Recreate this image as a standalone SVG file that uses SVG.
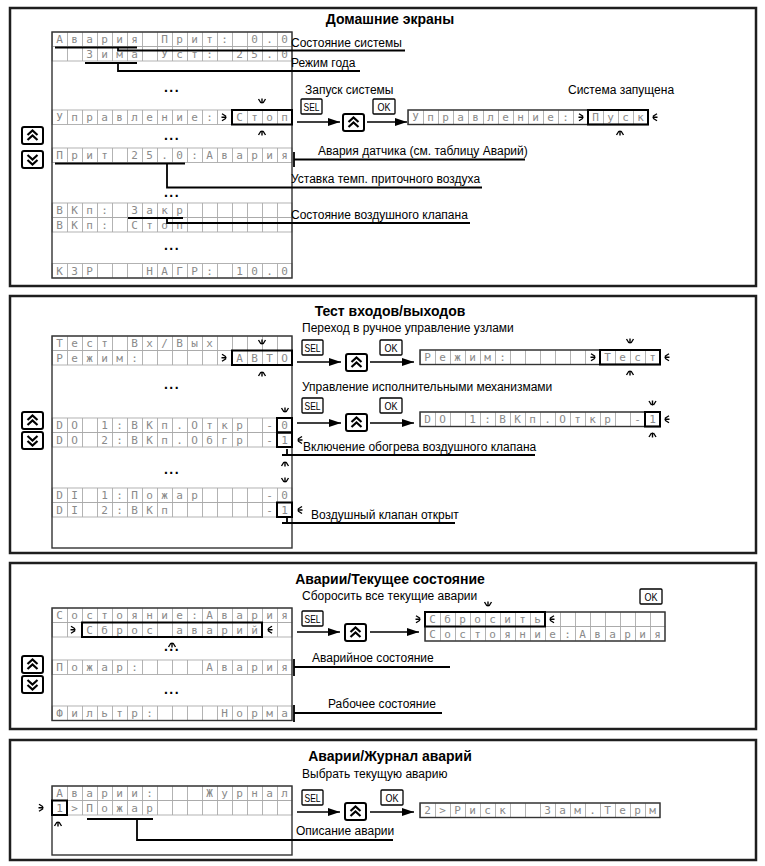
<svg xmlns="http://www.w3.org/2000/svg" xmlns:xlink="http://www.w3.org/1999/xlink" width="765" height="866" viewBox="0 0 765 866" xml:space="preserve">
<style>
.frame{fill:none;stroke:#1e1e1e;stroke-width:2.5}
.title{font-family:"Liberation Sans",Arial,sans-serif;font-weight:bold;font-size:14px;text-anchor:middle;fill:#000}
.lbl{font-family:"Liberation Sans",Arial,sans-serif;font-size:12px;fill:#000}
.lcd{font-family:"DejaVu Sans Mono",monospace;font-size:11px;fill:#8a8a8a;text-anchor:middle;white-space:pre}
.row{fill:url(#cg);stroke:#aaa;stroke-width:0.9}
.lcdf{fill:none;stroke:#333;stroke-width:1.4}
.sel{fill:none;stroke:#000;stroke-width:2}
.dots{font-family:"Liberation Sans",Arial,sans-serif;font-weight:bold;font-size:14px;letter-spacing:1.5px;text-anchor:middle;fill:#000}
.key{fill:#fff;stroke:#000;stroke-width:1.3}
.keyt{font-family:"Liberation Sans",Arial,sans-serif;font-size:11px;text-anchor:middle;fill:#000}
.cn{fill:none;stroke:#000;stroke-width:1.8}
.arr{fill:none;stroke:#000;stroke-width:1.6;marker-end:url(#ah)}
.bl{fill:none;stroke:#000;stroke-width:1.4}
</style>
<defs>
<pattern id="cg" width="15" height="15" patternUnits="userSpaceOnUse"><rect x="0" y="0" width="0.9" height="15" fill="#aaa"/></pattern>
<marker id="ah" markerWidth="12" markerHeight="8" refX="12" refY="4" orient="auto" markerUnits="userSpaceOnUse"><path d="M0,0 L12,4 L0,8 z" fill="#000"/></marker>
<g id="bk"><path class="bl" d="M-3.5,-4 L-1,0 M0,-4.5 V0.5 M3.5,-4 L1,0"/></g>
<g id="bUp"><rect x="0" y="0" width="21" height="17" rx="2" fill="#fff" stroke="#000" stroke-width="2"/><path d="M5.5,8 L10.5,3.5 L15.5,8 M5.5,13 L10.5,8.5 L15.5,13" fill="none" stroke="#000" stroke-width="2.2"/></g>
<g id="bDn"><rect x="0" y="0" width="21" height="17" rx="2" fill="#fff" stroke="#000" stroke-width="2"/><path d="M5.5,4 L10.5,8.5 L15.5,4 M5.5,9 L10.5,13.5 L15.5,9" fill="none" stroke="#000" stroke-width="2.2"/></g>
</defs>
<rect width="765" height="866" fill="#fff"/>

<!-- Panel 1 -->
<g id="panel1">
<rect class="frame" x="10" y="8" width="746" height="278"/>
<text class="title" x="390" y="24">Домашние экраны</text>
</g>
<g id="p1-lcd-main" transform="translate(52,32)">
<rect class="row" x="0" y="0" width="240" height="14.5"/>
<rect class="row" x="0" y="14.5" width="240" height="14.5"/>
<rect class="row" x="0" y="78" width="240" height="14.5"/>
<rect class="row" x="0" y="116" width="240" height="14.5"/>
<rect class="row" x="0" y="171" width="240" height="14.5"/>
<rect class="row" x="0" y="185.5" width="240" height="14.5"/>
<rect class="row" x="0" y="231.5" width="240" height="14.5"/>
<text class="lcd" x="7.5 22.5 37.5 52.5 67.5 82.5 97.5 112.5 127.5 142.5 157.5 172.5 187.5 202.5 217.5 232.5" y="11">Авария Прит: 0.0</text>
<text class="lcd" x="7.5 22.5 37.5 52.5 67.5 82.5 97.5 112.5 127.5 142.5 157.5 172.5 187.5 202.5 217.5 232.5" y="25.5">  Зима Уст: 25.0</text>
<text class="lcd" x="7.5 22.5 37.5 52.5 67.5 82.5 97.5 112.5 127.5 142.5 157.5 172.5 187.5 202.5 217.5 232.5" y="89">Управление: Стоп</text>
<text class="lcd" x="7.5 22.5 37.5 52.5 67.5 82.5 97.5 112.5 127.5 142.5 157.5 172.5 187.5 202.5 217.5 232.5" y="127">Прит 25.0:Авария</text>
<text class="lcd" x="7.5 22.5 37.5 52.5 67.5 82.5 97.5 112.5 127.5" y="182">ВКп: Закр</text>
<text class="lcd" x="7.5 22.5 37.5 52.5 67.5 82.5 97.5 112.5 127.5" y="196.5">ВКп: Стоп</text>
<text class="lcd" x="7.5 22.5 37.5 52.5 67.5 82.5 97.5 112.5 127.5 142.5 157.5 172.5 187.5 202.5 217.5 232.5" y="242.5">КЗР   НАГР: 10.0</text>
<rect class="lcdf" x="0" y="0" width="240" height="246"/>
<rect class="sel" x="180" y="78" width="60" height="14.5"/>
<text class="dots" x="120" y="59.5">...</text>
<text class="dots" x="120" y="107.5">...</text>
<text class="dots" x="120" y="164.5">...</text>
<text class="dots" x="120" y="217.5">...</text>
<use xlink:href="#bk" transform="translate(174,85.25) rotate(-90)"/>
<use xlink:href="#bk" transform="translate(210,71)"/>
<use xlink:href="#bk" transform="translate(210,99) rotate(180)"/>
</g>
<g id="p1-lcd-run" transform="translate(408,110)">
<rect class="row" x="0" y="0" width="240" height="14.5"/>
<text class="lcd" x="7.5 22.5 37.5 52.5 67.5 82.5 97.5 112.5 127.5 142.5 157.5 172.5 187.5 202.5 217.5 232.5" y="11">Управление: Пуск</text>
<rect class="lcdf" x="0" y="0" width="240" height="14.5"/>
<rect class="sel" x="180" y="0" width="60" height="14.5"/>
<use xlink:href="#bk" transform="translate(175,7.25) rotate(-90)"/>
<use xlink:href="#bk" transform="translate(245,7.25) rotate(90)"/>
<use xlink:href="#bk" transform="translate(212,21) rotate(180)"/>
</g>
<g id="p1-keys">
<use xlink:href="#bUp" x="22" y="127"/>
<use xlink:href="#bDn" x="22" y="151"/>
<rect class="key" x="301" y="99" width="21" height="15" rx="1"/><text class="keyt" x="311.5" y="110.5" textLength="16" lengthAdjust="spacingAndGlyphs">SEL</text>
<use xlink:href="#bUp" x="343" y="114"/>
<rect class="key" x="373" y="99" width="22" height="15" rx="1"/><text class="keyt" x="384" y="110.5" textLength="13" lengthAdjust="spacingAndGlyphs">OK</text>
</g>
<g id="p1-labels">
<text class="lbl" x="291" y="46.5">Состояние системы</text>
<text class="lbl" x="291" y="67">Режим года</text>
<text class="lbl" x="305" y="94">Запуск системы</text>
<text class="lbl" x="568" y="94">Система запущена</text>
<text class="lbl" x="318" y="155">Авария датчика (см. таблицу Аварий)</text>
<text class="lbl" x="291" y="183">Уставка темп. приточного воздуха</text>
<text class="lbl" x="291" y="219">Состояние воздушного клапана</text>
</g>

<!-- Panel 2 -->
<g id="panel2">
<rect class="frame" x="10" y="296" width="746" height="257"/>
<text class="title" x="390" y="316">Тест входов/выходов</text>
</g>
<g id="p2-lcd-main" transform="translate(52,336)">
<rect class="row" x="0" y="0" width="240" height="14.5"/>
<rect class="row" x="0" y="14.5" width="240" height="14.5"/>
<rect class="row" x="0" y="82" width="240" height="14.5"/>
<rect class="row" x="0" y="96.5" width="240" height="14.5"/>
<rect class="row" x="0" y="152" width="240" height="14.5"/>
<rect class="row" x="0" y="166.5" width="240" height="14.5"/>
<text class="lcd" x="7.5 22.5 37.5 52.5 67.5 82.5 97.5 112.5 127.5 142.5 157.5" y="11">Тест Вх/Вых</text>
<text class="lcd" x="7.5 22.5 37.5 52.5 67.5 82.5 97.5 112.5 127.5 142.5 157.5 172.5 187.5 202.5 217.5 232.5" y="25.5">Режим:      АВТО</text>
<text class="lcd" x="7.5 22.5 37.5 52.5 67.5 82.5 97.5 112.5 127.5 142.5 157.5 172.5 187.5 202.5 217.5 232.5" y="93">DO 1:ВКп.Откр -0</text>
<text class="lcd" x="7.5 22.5 37.5 52.5 67.5 82.5 97.5 112.5 127.5 142.5 157.5 172.5 187.5 202.5 217.5 232.5" y="107.5">DO 2:ВКп.Обгр -1</text>
<text class="lcd" x="7.5 22.5 37.5 52.5 67.5 82.5 97.5 112.5 127.5 142.5 157.5 172.5 187.5 202.5 217.5 232.5" y="163">DI 1:Пожар    -0</text>
<text class="lcd" x="7.5 22.5 37.5 52.5 67.5 82.5 97.5 112.5 127.5 142.5 157.5 172.5 187.5 202.5 217.5 232.5" y="177.5">DI 2:ВКп      -1</text>
<rect class="lcdf" x="0" y="0" width="240" height="212"/>
<rect class="sel" x="180" y="14.5" width="60" height="14.5"/>
<rect class="sel" x="225" y="82" width="15" height="14.5"/>
<rect class="sel" x="225" y="96.5" width="15" height="14.5"/>
<rect class="sel" x="225" y="166.5" width="15" height="14.5"/>
<text class="dots" x="120" y="52.5">...</text>
<text class="dots" x="120" y="137.5">...</text>
<use xlink:href="#bk" transform="translate(174,21.75) rotate(-90)"/>
<use xlink:href="#bk" transform="translate(210,8)"/>
<use xlink:href="#bk" transform="translate(210,36) rotate(180)"/>
<use xlink:href="#bk" transform="translate(233,76)"/>
<use xlink:href="#bk" transform="translate(246,104) rotate(90)"/>
<use xlink:href="#bk" transform="translate(233,126) rotate(180)"/>
<use xlink:href="#bk" transform="translate(233,146)"/>
<use xlink:href="#bk" transform="translate(246,174) rotate(90)"/>
</g>
<g id="p2-lcd-test" transform="translate(420,350)">
<rect class="row" x="0" y="0" width="240" height="14.5"/>
<text class="lcd" x="7.5 22.5 37.5 52.5 67.5 82.5 97.5 112.5 127.5 142.5 157.5 172.5 187.5 202.5 217.5 232.5" y="11">Режим:      Тест</text>
<rect class="lcdf" x="0" y="0" width="240" height="14.5"/>
<rect class="sel" x="180" y="0" width="60" height="14.5"/>
<use xlink:href="#bk" transform="translate(175,7.25) rotate(-90)"/>
<use xlink:href="#bk" transform="translate(245,7.25) rotate(90)"/>
<use xlink:href="#bk" transform="translate(210,-7)"/>
<use xlink:href="#bk" transform="translate(210,21) rotate(180)"/>
</g>
<g id="p2-lcd-do" transform="translate(420,412)">
<rect class="row" x="0" y="0" width="240" height="14.5"/>
<text class="lcd" x="7.5 22.5 37.5 52.5 67.5 82.5 97.5 112.5 127.5 142.5 157.5 172.5 187.5 202.5 217.5 232.5" y="11">DO 1:ВКп.Откр -1</text>
<rect class="lcdf" x="0" y="0" width="240" height="14.5"/>
<rect class="sel" x="225" y="0" width="15" height="14.5"/>
<use xlink:href="#bk" transform="translate(245,7.25) rotate(90)"/>
<use xlink:href="#bk" transform="translate(232.5,-7)"/>
<use xlink:href="#bk" transform="translate(232.5,21) rotate(180)"/>
</g>
<g id="p2-keys">
<use xlink:href="#bUp" x="22" y="412"/>
<use xlink:href="#bDn" x="22" y="432"/>
<rect class="key" x="302" y="340" width="21" height="15" rx="1"/><text class="keyt" x="312.5" y="351.5" textLength="16" lengthAdjust="spacingAndGlyphs">SEL</text>
<use xlink:href="#bUp" x="346" y="354"/>
<rect class="key" x="380" y="340" width="22" height="15" rx="1"/><text class="keyt" x="391" y="351.5" textLength="13" lengthAdjust="spacingAndGlyphs">OK</text>
<rect class="key" x="302" y="398" width="21" height="15" rx="1"/><text class="keyt" x="312.5" y="409.5" textLength="16" lengthAdjust="spacingAndGlyphs">SEL</text>
<use xlink:href="#bUp" x="346" y="414"/>
<rect class="key" x="380" y="398" width="22" height="15" rx="1"/><text class="keyt" x="391" y="409.5" textLength="13" lengthAdjust="spacingAndGlyphs">OK</text>
</g>
<g id="p2-labels">
<text class="lbl" x="302" y="332">Переход в ручное управление узлами</text>
<text class="lbl" x="302" y="391">Управление исполнительными механизмами</text>
<text class="lbl" x="303" y="451">Включение обогрева воздушного клапана</text>
<text class="lbl" x="311" y="519">Воздушный клапан открыт</text>
</g>

<!-- Panel 3 -->
<g id="panel3">
<rect class="frame" x="10" y="563" width="746" height="166"/>
<text class="title" x="390" y="584">Аварии/Текущее состояние</text>
</g>
<g id="p3-lcd-main" transform="translate(52,608)">
<rect class="row" x="0" y="0" width="240" height="14.5"/>
<rect class="row" x="0" y="14.5" width="240" height="14.5"/>
<rect class="row" x="0" y="52" width="240" height="14.5"/>
<rect class="row" x="0" y="98" width="240" height="14.5"/>
<text class="lcd" x="7.5 22.5 37.5 52.5 67.5 82.5 97.5 112.5 127.5 142.5 157.5 172.5 187.5 202.5 217.5 232.5" y="11">Состояние:Авария</text>
<text class="lcd" x="7.5 22.5 37.5 52.5 67.5 82.5 97.5 112.5 127.5 142.5 157.5 172.5 187.5 202.5" y="25.5">  Сброс аварий</text>
<text class="lcd" x="7.5 22.5 37.5 52.5 67.5 82.5 97.5 112.5 127.5 142.5 157.5 172.5 187.5 202.5 217.5 232.5" y="63">Пожар:    Авария</text>
<text class="lcd" x="7.5 22.5 37.5 52.5 67.5 82.5 97.5 112.5 127.5 142.5 157.5 172.5 187.5 202.5 217.5 232.5" y="109">Фильтр:    Норма</text>
<rect class="lcdf" x="0" y="0" width="240" height="112.5"/>
<rect class="sel" x="30" y="14.5" width="180" height="14.5"/>
<text class="dots" x="120" y="42.5">...</text>
<text class="dots" x="120" y="85.5">...</text>
<use xlink:href="#bk" transform="translate(23,21.75) rotate(-90)"/>
<use xlink:href="#bk" transform="translate(216,21.75) rotate(90)"/>
<use xlink:href="#bk" transform="translate(120,35) rotate(180)"/>
</g>
<g id="p3-lcd-reset" transform="translate(425,612)">
<rect class="row" x="0" y="0" width="240" height="14.5"/>
<rect class="row" x="0" y="14.5" width="240" height="14.5"/>
<text class="lcd" x="7.5 22.5 37.5 52.5 67.5 82.5 97.5 112.5" y="11">Сбросить</text>
<text class="lcd" x="7.5 22.5 37.5 52.5 67.5 82.5 97.5 112.5 127.5 142.5 157.5 172.5 187.5 202.5 217.5 232.5" y="25.5">Состояние:Авария</text>
<rect class="lcdf" x="0" y="0" width="240" height="29"/>
<rect class="sel" x="0" y="0" width="120" height="14.5"/>
<use xlink:href="#bk" transform="translate(-5,7.25) rotate(-90)"/>
<use xlink:href="#bk" transform="translate(125,7.25) rotate(90)"/>
<use xlink:href="#bk" transform="translate(63,-6)"/>
</g>
<g id="p3-keys">
<use xlink:href="#bUp" x="22" y="656"/>
<use xlink:href="#bDn" x="22" y="676"/>
<rect class="key" x="302" y="611" width="21" height="15" rx="1"/><text class="keyt" x="312.5" y="622.5" textLength="16" lengthAdjust="spacingAndGlyphs">SEL</text>
<use xlink:href="#bUp" x="345" y="624"/>
<rect class="key" x="640" y="589" width="22" height="15" rx="1"/><text class="keyt" x="651" y="600.5" textLength="13" lengthAdjust="spacingAndGlyphs">OK</text>
</g>
<g id="p3-labels">
<text class="lbl" x="302" y="600">Сборосить все текущие аварии</text>
<text class="lbl" x="312" y="662">Аварийное состояние</text>
<text class="lbl" x="328" y="708">Рабочее состояние</text>
</g>

<!-- Panel 4 -->
<g id="panel4">
<rect class="frame" x="10" y="740" width="746" height="120"/>
<text class="title" x="390" y="761">Аварии/Журнал аварий</text>
</g>
<g id="p4-lcd-main" transform="translate(52,786)">
<rect class="row" x="0" y="0" width="240" height="14.5"/>
<rect class="row" x="0" y="14.5" width="240" height="14.5"/>
<text class="lcd" x="7.5 22.5 37.5 52.5 67.5 82.5 97.5 112.5 127.5 142.5 157.5 172.5 187.5 202.5 217.5 232.5" y="11">Аварии:   Журнал</text>
<text class="lcd" x="7.5 22.5 37.5 52.5 67.5 82.5 97.5" y="25.5">1&gt;Пожар</text>
<rect class="lcdf" x="0" y="0" width="240" height="69"/>
<rect class="sel" x="0" y="14.5" width="15" height="14.5"/>
<use xlink:href="#bk" transform="translate(-9,21.75) rotate(-90)"/>
<use xlink:href="#bk" transform="translate(6,36) rotate(180)"/>
</g>
<g id="p4-lcd-next" transform="translate(420,803)">
<rect class="row" x="0" y="0" width="240" height="14.5"/>
<text class="lcd" x="7.5 22.5 37.5 52.5 67.5 82.5 97.5 112.5 127.5 142.5 157.5 172.5 187.5 202.5 217.5 232.5" y="11">2&gt;Риск  Зам.Терм</text>
<rect class="lcdf" x="0" y="0" width="240" height="14.5"/>
</g>
<g id="p4-keys">
<rect class="key" x="302" y="790" width="21" height="15" rx="1"/><text class="keyt" x="312.5" y="801.5" textLength="16" lengthAdjust="spacingAndGlyphs">SEL</text>
<use xlink:href="#bUp" x="345" y="803"/>
<rect class="key" x="381" y="790" width="22" height="15" rx="1"/><text class="keyt" x="392" y="801.5" textLength="13" lengthAdjust="spacingAndGlyphs">OK</text>
</g>
<g id="p4-labels">
<text class="lbl" x="302" y="778">Выбрать текущую аварию</text>
<text class="lbl" x="296" y="835">Описание аварии</text>
</g>

<g id="connectors">
<path class="cn" d="M55,47.5 H137 M118,47.5 V50.5 H405"/>
<path class="cn" d="M85,63 H137 M118,63 V71 H360"/>
<path class="cn" d="M55,163.5 H185 M167,163.5 V187.5 H482"/>
<path class="cn" d="M294,152 V167 M294,159.5 H525"/>
<path class="cn" d="M128,218 H183 M167,218 V223 H470"/>
<line class="arr" x1="297" y1="122" x2="340" y2="122"/>
<line class="arr" x1="367" y1="122" x2="407" y2="122"/>
<line class="arr" x1="297" y1="362" x2="341" y2="362"/>
<line class="arr" x1="370" y1="362" x2="414" y2="362"/>
<line class="arr" x1="297" y1="423" x2="341" y2="423"/>
<line class="arr" x1="370" y1="423" x2="414" y2="423"/>
<path class="cn" d="M287,449 V455 M282,455 H535"/>
<path class="cn" d="M287,517 V523 M282,523 H455"/>
<line class="arr" x1="297" y1="632" x2="340" y2="632"/>
<line class="arr" x1="370" y1="632" x2="419" y2="632"/>
<path class="cn" d="M294,659 V676 M294,667 H450"/>
<path class="cn" d="M294,705 V722 M294,713 H442"/>
<path class="cn" d="M87,819 H153 M137,819 V840 H393"/>
<line class="arr" x1="297" y1="812" x2="340" y2="812"/>
<line class="arr" x1="370" y1="812" x2="414" y2="812"/>
</g>
</svg>
